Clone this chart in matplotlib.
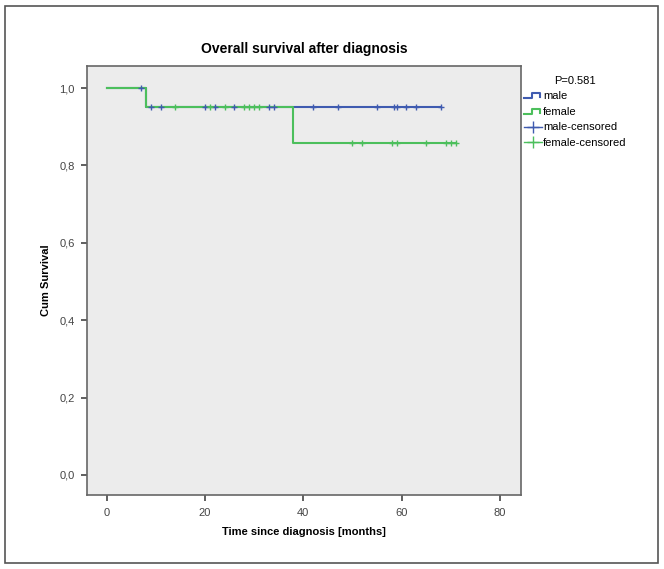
import numpy as np
import matplotlib
matplotlib.use('Agg')
import matplotlib.pyplot as plt
from matplotlib.lines import Line2D
from matplotlib.legend_handler import HandlerBase
from matplotlib.patches import Rectangle

plt.rcParams['font.family'] = ['Liberation Sans', 'DejaVu Sans']

# survival step functions (time in months, cumulative survival)
male_t = [0, 8, 68]
male_s = [1.0, 0.95, 0.95]
female_t = [0, 8, 38, 71]
female_s = [1.0, 0.95, 0.857, 0.857]

# censored observations
male_cens = [7, 9, 11, 20, 22, 26, 33, 34, 42, 47, 55, 58.5, 59, 61, 63, 68]
female_cens = [14, 21, 24, 28, 29, 30, 31, 50, 52, 58, 59, 65, 69, 70, 71]

xticks = [0, 20, 40, 60, 80]
yticks = [0.0, 0.2, 0.4, 0.6, 0.8, 1.0]
ytick_labels = ['0,0', '0,2', '0,4', '0,6', '0,8', '1,0']

blue = '#3f5bb0'
green = '#4cbf5c'


def surv_at(t, times, surv):
    idx = np.searchsorted(times, t, side='right') - 1
    return np.array(surv)[idx]


class StepHandler(HandlerBase):
    def create_artists(self, legend, orig, xd, yd, w, h, fontsize, trans):
        xs = [0, w * 0.45, w * 0.45, w * 0.9, w * 0.9]
        ys = [h * 0.15, h * 0.15, h * 0.75, h * 0.75, h * 0.3]
        ln = Line2D(xs, ys, color=orig.get_color(), lw=1.5, transform=trans)
        return [ln]


fig = plt.figure(figsize=(6.64, 5.69), dpi=100)
fig.patches.append(Rectangle((5 / 664, 6 / 569), 653 / 664, 557 / 569,
                             transform=fig.transFigure, fill=False,
                             edgecolor='#555555', lw=1.2))

ax = fig.add_axes([87 / 664, 74 / 569, 434 / 664, 429 / 569])
ax.set_facecolor('#ececec')

ax.step(male_t, male_s, where='post', color=blue, lw=1.5, zorder=2)
ax.step(female_t, female_s, where='post', color=green, lw=1.5, zorder=3)
ax.plot(male_cens, surv_at(male_cens, male_t, male_s), '+', color=blue,
        ms=5, mew=1.0, zorder=4)
ax.plot(female_cens, surv_at(female_cens, female_t, female_s), '+',
        color=green, ms=5, mew=1.0, zorder=4)

ax.set_xlim(-4, 84.3)
ax.set_ylim(-0.052, 1.057)
ax.set_xticks(xticks)
ax.set_yticks(yticks)
ax.set_yticklabels(ytick_labels)
ax.tick_params(labelsize=8, labelcolor='#444444', color='#444444',
               length=4, width=1.2, pad=5)
for sp in ax.spines.values():
    sp.set_color('#666666')
    sp.set_linewidth(1.2)

ax.set_title('Overall survival after diagnosis', fontsize=10,
             fontweight='bold', pad=9)
ax.set_xlabel('Time since diagnosis [months]', fontsize=8,
              fontweight='bold', labelpad=7)
ax.set_ylabel('Cum Survival', fontsize=8, fontweight='bold', labelpad=6)

handles = [Line2D([], [], color=blue), Line2D([], [], color=green),
           Line2D([], [], color=blue, marker='+', ms=9, lw=1, mew=1),
           Line2D([], [], color=green, marker='+', ms=9, lw=1, mew=1)]
labels = ['male', 'female', 'male-censored', 'female-censored']
leg = fig.legend(handles, labels, loc='upper left',
                 bbox_to_anchor=(516 / 664, 1 - 68 / 569),
                 frameon=False, fontsize=8, title='P=0.581',
                 title_fontsize=8, handlelength=1.6, handletextpad=0.15,
                 labelspacing=0.5, borderpad=0.2,
                 handler_map={handles[0]: StepHandler(),
                              handles[1]: StepHandler()})

fig.savefig('out.png', dpi=100)
